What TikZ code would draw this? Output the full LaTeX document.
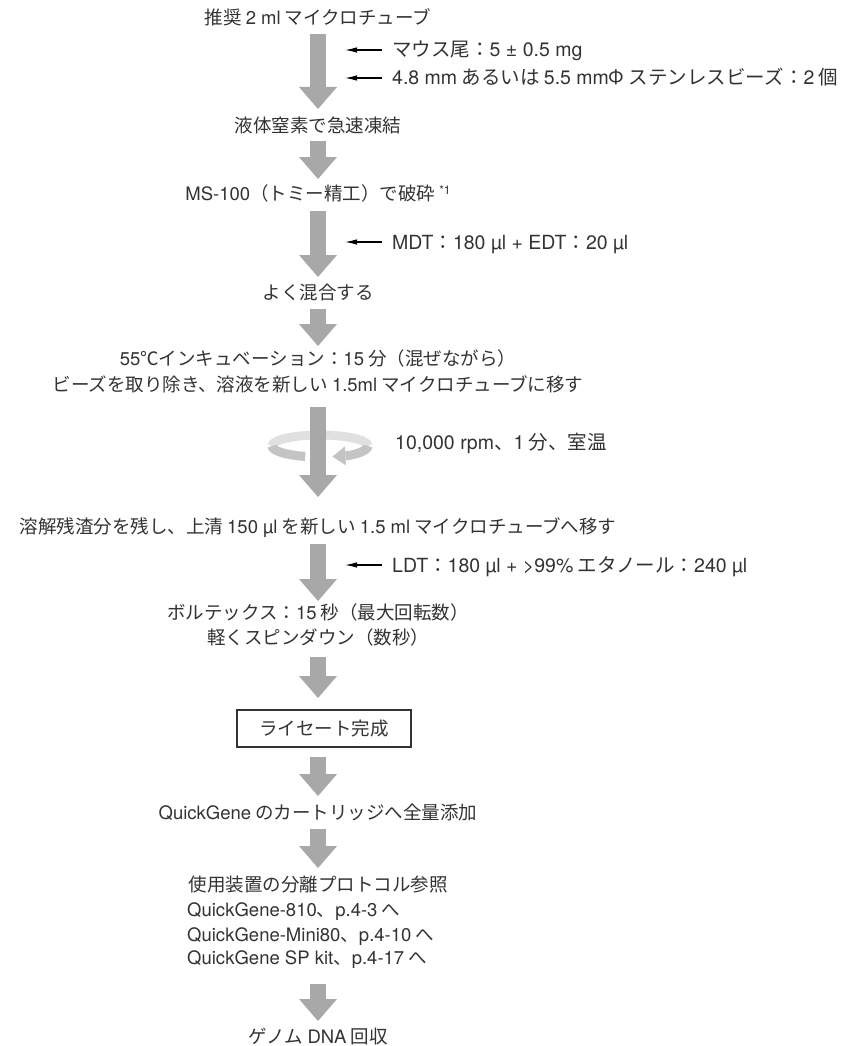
\documentclass[tikz,border=0pt]{standalone}
\usepackage{fontspec}
\setmainfont{Noto Sans CJK JP}
\newfontfamily\latfont{TeX Gyre Heros}
\newcommand\hv[1]{{\latfont #1}}
\usetikzlibrary{arrows.meta}
\definecolor{txt}{HTML}{333333}
\definecolor{arr}{HTML}{A8A8A8}
\definecolor{ringtop}{HTML}{E0E0E0}
\definecolor{ringbot}{HTML}{C4C4C4}
\begin{document}
\begin{tikzpicture}[x=1pt,y=-1pt,
  lbl/.style={anchor=base, inner sep=0pt, text=txt, font=\fontsize{18.5}{22}\selectfont},
  lblw/.style={lbl, anchor=base west},
  sidelbl/.style={lbl, anchor=base west, font=\fontsize{19.5}{22}\selectfont},
  fat/.style={draw=arr, line width=16pt, -{Triangle[width=38pt,length=22pt,line width=0pt,fill=arr]}},
  side/.style={draw=black, line width=1.1pt, -{Latex[length=12pt,width=5.5pt]}},
  boxed/.style={draw=txt, line width=1.1pt, text=txt, inner sep=0pt, minimum width=174pt, minimum height=37pt, font=\fontsize{18.5}{22}\selectfont},
  ring/.style={line width=9pt}
]
\useasboundingbox (0,0) rectangle (850,1046);
\fill[white] (0,0) rectangle (850,1046);

% main texts (y = visual centre + 6.5)
\node[lbl] (t1) at (318,25) {推奨 \hv{2 ml} マイクロチューブ};
\node[lbl] (t2) at (318,132) {液体窒素で急速凍結};
\node[lbl] (t3) at (318,200.5) {\hv{MS-100}（トミー精工）で破砕 \raisebox{6pt}{\fontsize{12}{12}\selectfont\hv{*1}}};
\node[lbl] (t4) at (318,299.5) {よく混合する};
\node[lbl] (t5a) at (318,365) {\hv{55}℃インキュベーション：\hv{15} 分（混ぜながら）};
\node[lbl] (t5b) at (318,391.5) {ビーズを取り除き、溶液を新しい \hv{1.5ml} マイクロチューブに移す};
\node[lbl] (t6) at (318,533.5) {溶解残渣分を残し、上清 \hv{150 µl} を新しい \hv{1.5 ml} マイクロチューブへ移す};
\node[lbl] (t7a) at (318,619) {ボルテックス：\hv{15} 秒（最大回転数）};
\node[lbl] (t7b) at (318,644) {軽くスピンダウン（数秒）};
\node[boxed] (box) at (324,728.5) {ライセート完成};
\node[lbl] (t8) at (318,819) {\hv{QuickGene} のカートリッジへ全量添加};
\node[lbl] (t9a) at (318,891.5) {使用装置の分離プロトコル参照};
\node[lblw] (t9b) at (187,916.5) {\hv{QuickGene-810}、\hv{p.4-3} へ};
\node[lblw] (t9c) at (187,941.5) {\hv{QuickGene-Mini80}、\hv{p.4-10} へ};
\node[lblw] (t9d) at (187,964.5) {\hv{QuickGene SP kit}、\hv{p.4-17} へ};
\node[lbl] (t10) at (318,1043) {ゲノム \hv{DNA} 回収};

% side texts
\node[sidelbl] (s1) at (392,57) {マウス尾：\hv{5 ± 0.5 mg}};
\node[sidelbl] (s2) at (392,85) {\hv{4.8 mm} あるいは \hv{5.5 mm}Φ ステンレスビーズ：\hv{2} 個};
\node[sidelbl] (s3) at (392,249) {\hv{MDT}：\hv{180 µl + EDT}：\hv{20 µl}};
\node[sidelbl] (s4) at (395,449) {\hv{10,000 rpm}、\hv{1} 分、室温};
\node[sidelbl] (s5) at (392,572) {\hv{LDT}：\hv{180 µl + >99\%} エタノール：\hv{240 µl}};

% fat arrow end points
\coordinate (a1s) at (318,34);  \coordinate (a1e) at (318,109);
\coordinate (a2s) at (318,141); \coordinate (a2e) at (318,179);
\coordinate (a3s) at (318,211); \coordinate (a3e) at (318,277);
\coordinate (a4s) at (318,309); \coordinate (a4e) at (318,346);
\coordinate (a5s) at (318,407); \coordinate (a5e) at (318,497);
\coordinate (a6s) at (318,544); \coordinate (a6e) at (318,601);
\coordinate (a7s) at (318,657); \coordinate (a7e) at (318,698);
\coordinate (a8s) at (318,757); \coordinate (a8e) at (318,796);
\coordinate (a9s) at (318,829); \coordinate (a9e) at (318,868);
\coordinate (a10s) at (318,984); \coordinate (a10e) at (318,1021);

% spin ring (back part)
\coordinate (rl) at (272,446);
\coordinate (rr) at (368,446);
\draw[ring, draw=ringtop] (rl) arc[start angle=180, end angle=0, x radius=48pt, y radius=11pt];

\foreach \i in {1,...,10} {\draw[fat] (a\i s) -- (a\i e);}

% spin ring (front part)
\draw[ring, draw=ringbot] (rl) arc[start angle=180, end angle=252, x radius=48pt, y radius=11pt];
\draw[ring, draw=ringbot, -{Triangle[width=19pt,length=13pt,line width=0pt,fill=ringbot]}] (rr) arc[start angle=360, end angle=285, x radius=48pt, y radius=11pt];

% side arrows
\coordinate (s1t) at (382,50);  \coordinate (s1h) at (345,50);
\coordinate (s2t) at (382,78);  \coordinate (s2h) at (345,78);
\coordinate (s3t) at (382,242); \coordinate (s3h) at (345,242);
\coordinate (s5t) at (382,565); \coordinate (s5h) at (345,565);
\draw[side] (s1t) -- (s1h);
\draw[side] (s2t) -- (s2h);
\draw[side] (s3t) -- (s3h);
\draw[side] (s5t) -- (s5h);
\end{tikzpicture}
\end{document}
